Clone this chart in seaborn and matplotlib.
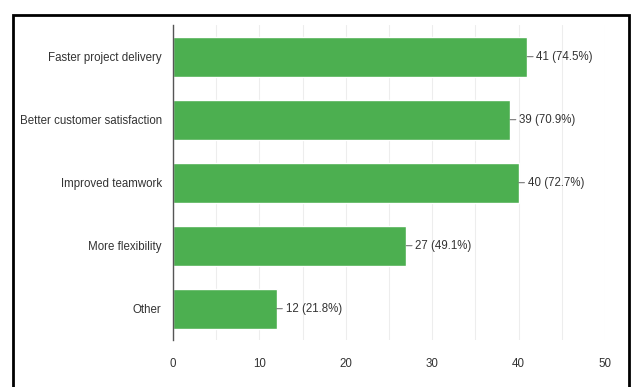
import matplotlib
matplotlib.use('Agg')
import matplotlib.pyplot as plt
import seaborn as sns
import pandas as pd
from matplotlib.patches import Rectangle

categories = ['Faster project delivery', 'Better customer satisfaction',
              'Improved teamwork', 'More flexibility', 'Other']
counts = [41, 39, 40, 27, 12]
percents = [74.5, 70.9, 72.7, 49.1, 21.8]
xticks = [0, 10, 20, 30, 40, 50]

df = pd.DataFrame({'category': categories, 'count': counts})

sns.set_style('white')
plt.rcParams['font.family'] = ['Liberation Sans', 'DejaVu Sans']

fig = plt.figure(figsize=(6.33, 3.87), dpi=100)
ax = fig.add_axes([0.273, 0.121, 0.683, 0.814])

sns.barplot(data=df, x='count', y='category', color='#4caf50', width=0.63,
            saturation=1, ax=ax)

ax.set_xlim(0, 50)
ax.set_xticks(xticks)
ax.set_xticks(range(0, 51, 5), minor=True)
ax.grid(axis='x', which='both', color='#ededed', linewidth=0.8)
ax.set_axisbelow(True)
for s in ['top', 'right', 'bottom']:
    ax.spines[s].set_visible(False)
ax.spines['left'].set_color('#555555')
ax.spines['left'].set_linewidth(1)
ax.set_xlabel('')
ax.set_ylabel('')
ax.tick_params(axis='both', which='both', length=0, colors='#333333', labelsize=8.3)
ax.tick_params(axis='y', pad=8)
ax.tick_params(axis='x', pad=13)

for i, (c, p) in enumerate(zip(counts, percents)):
    ax.annotate('%d (%.1f%%)' % (c, p), xy=(c, i), xytext=(6.5, 0),
                textcoords='offset points', va='center', ha='left',
                fontsize=8.3, color='#333333',
                arrowprops=dict(arrowstyle='-', color='#777777', lw=0.8,
                                shrinkA=0, shrinkB=0))

# black frame around the chart
fig.patches.append(Rectangle((13 / 633, -0.05), 616 / 633, 1 - 15 / 387 + 0.05,
                             transform=fig.transFigure, fill=False,
                             edgecolor='black', linewidth=2))

plt.savefig('out.png', dpi=100)
